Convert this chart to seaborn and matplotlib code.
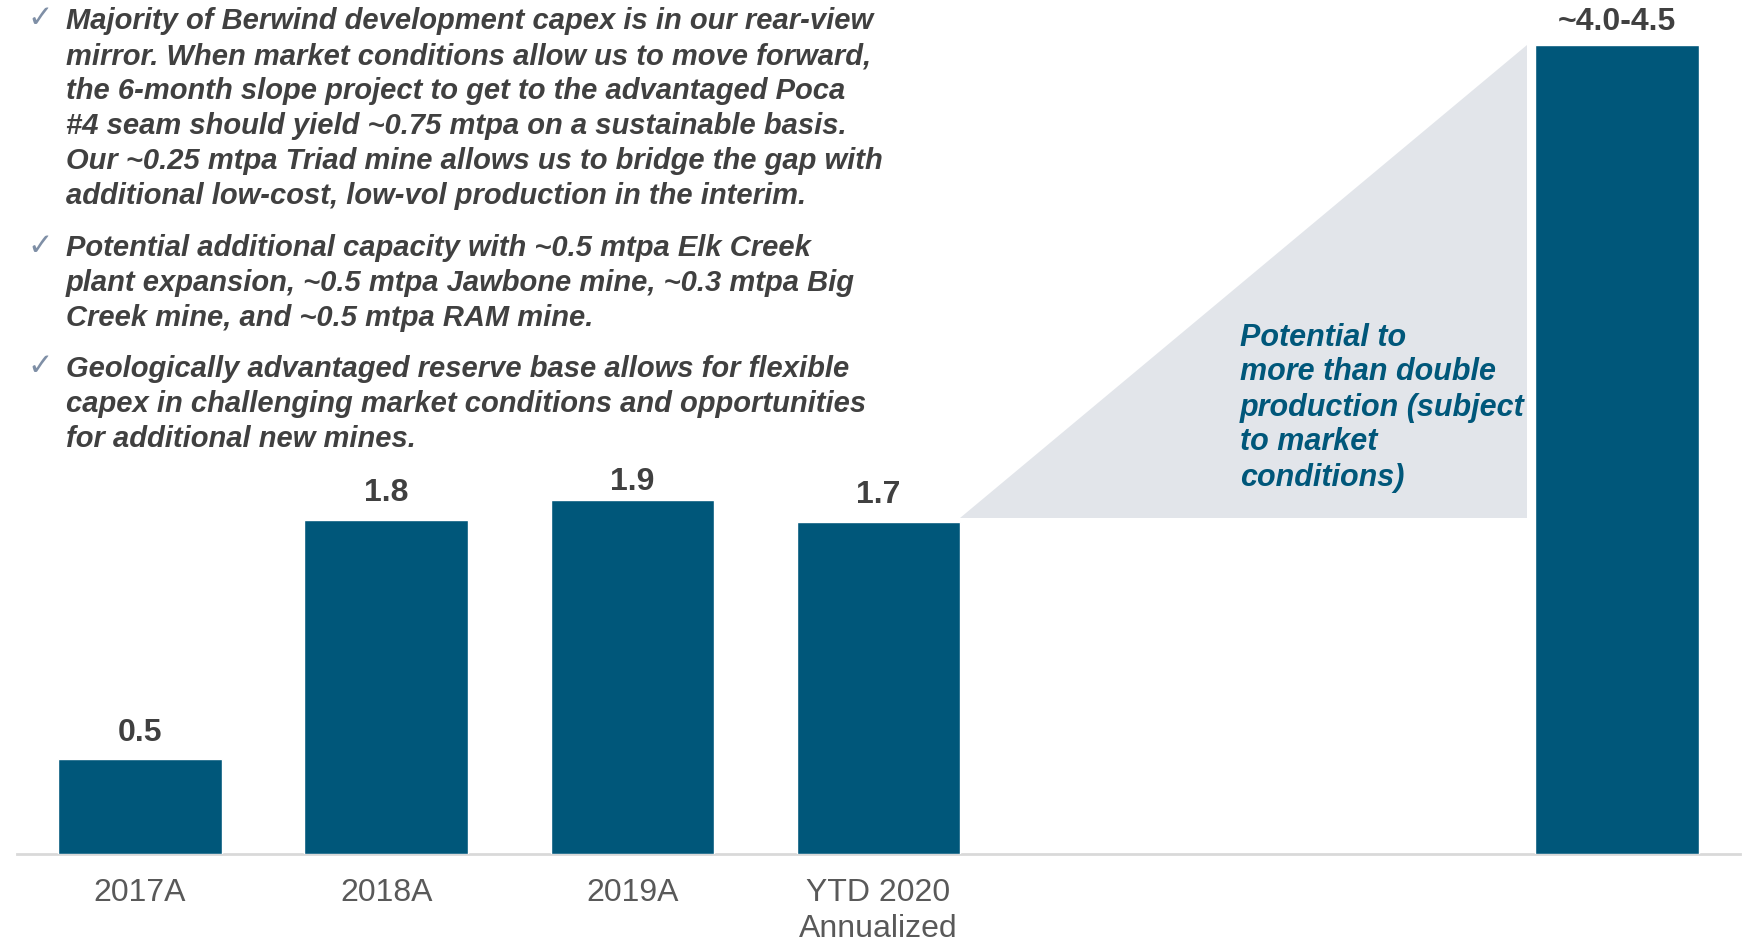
import matplotlib
matplotlib.use("Agg")
import matplotlib.pyplot as plt
from matplotlib.patches import Polygon
import seaborn as sns
import pandas as pd

# ---- data ----
categories = ["2017A", "2018A", "2019A", "YTD 2020", "gap1", "gap2", "Potential"]
tick_labels = ["2017A", "2018A", "2019A", "YTD 2020\nAnnualized", "", "", ""]
bar_categories = ["2017A", "2018A", "2019A", "YTD 2020", "Potential"]
bar_values = [0.51, 1.80, 1.905, 1.79, 4.36]
bar_labels = ["0.5", "1.8", "1.9", "1.7", "~4.0-4.5"]

bullets = [
    ["Majority of Berwind development capex is in our rear-view",
     "mirror. When market conditions allow us to move forward,",
     "the 6-month slope project to get to the advantaged Poca",
     "#4 seam should yield ~0.75 mtpa on a sustainable basis.",
     "Our ~0.25 mtpa Triad mine allows us to bridge the gap with",
     "additional low-cost, low-vol production in the interim."],
    ["Potential additional capacity with ~0.5 mtpa Elk Creek",
     "plant expansion, ~0.5 mtpa Jawbone mine, ~0.3 mtpa Big",
     "Creek mine, and ~0.5 mtpa RAM mine."],
    ["Geologically advantaged reserve base allows for flexible",
     "capex in challenging market conditions and opportunities",
     "for additional new mines."],
]
annotation_lines = ["Potential to", "more than double", "production (subject",
                    "to market", "conditions)"]

BAR = "#00577A"
TRI = "#E2E5EA"
TXT = "#404040"

sns.set_theme(style="white")
plt.rcParams["font.family"] = ["Liberation Sans", "DejaVu Sans"]

fig = plt.figure(figsize=(17.43, 9.42), dpi=100)
ax = fig.add_axes([17 / 1743, 1 - 854 / 942, (1740 - 17) / 1743, 854 / 942])

df = pd.DataFrame({"cat": bar_categories, "val": bar_values})
width = 0.664
sns.barplot(data=df, x="cat", y="val", order=categories, color=BAR,
            saturation=1, width=width, ax=ax, zorder=3)

ax.set_xlim(-0.5, 6.5)
ax.set_ylim(0, 4.6)

# triangle from YTD bar to potential bar
i_ytd = categories.index("YTD 2020")
i_pot = categories.index("Potential")
v_ytd = bar_values[bar_categories.index("YTD 2020")]
v_pot = bar_values[bar_categories.index("Potential")]
tri = Polygon([(i_ytd + width / 2, v_ytd + 0.02),
               (i_pot - width / 2 - 0.035, v_ytd + 0.02),
               (i_pot - width / 2 - 0.035, v_pot - 0.005)],
              closed=True, facecolor=TRI, edgecolor="none", zorder=1)
ax.add_patch(tri)

# bar value labels
label_offsets = [19, 19, 13, 19, 16.5]
for c, v, lab, off in zip(bar_categories, bar_values, bar_labels, label_offsets):
    ax.annotate(lab, (categories.index(c), v), xytext=(0, off),
                textcoords="offset points", ha="center", va="center",
                fontsize=23, fontweight="bold", color=TXT, zorder=4)

# axes styling
for s in ["top", "right", "left"]:
    ax.spines[s].set_visible(False)
ax.spines["bottom"].set_color("#D9D9D9")
ax.spines["bottom"].set_linewidth(2)
ax.set_yticks([])
ax.set_xlabel("")
ax.set_ylabel("")
ax.set_xticks(range(len(categories)))
ax.set_xticklabels(tick_labels, fontsize=23, color="#595959", linespacing=1.28)
ax.tick_params(axis="x", length=0, pad=17)

# annotation in triangle
ann_y = [338, 372, 408, 442, 478]
for yy, line in zip(ann_y, annotation_lines):
    fig.text(1240 / 1743, 1 - yy / 942, line, ha="left", va="center",
             fontsize=22, fontweight="bold", fontstyle="italic", color=BAR)

# bullets
narrow = ["Liberation Sans Narrow", "Liberation Sans", "DejaVu Sans"]
starts = [21, 248, 369]
step = 35.1
for y0, lines in zip(starts, bullets):
    fig.text(40 / 1743, 1 - (y0 - 2) / 942, "\u2713", ha="center", va="center",
             fontsize=22, color="#7F8FA6", family=["DejaVu Sans"])
    for k, line in enumerate(lines):
        fig.text(66 / 1743, 1 - (y0 + k * step) / 942, line, ha="left",
                 va="center", fontsize=21, fontweight="bold",
                 fontstyle="italic", color=TXT, family=narrow)

fig.savefig("out.png", dpi=100)
